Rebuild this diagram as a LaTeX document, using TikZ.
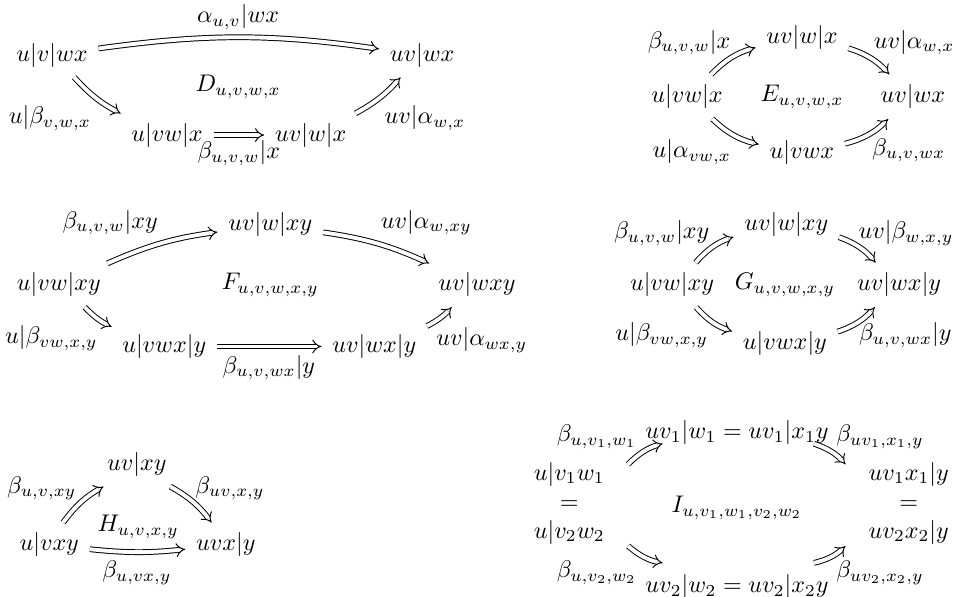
\documentclass[tikz,border=0pt]{standalone}
\usepackage{amsmath,amssymb}
\usetikzlibrary{arrows,positioning}

\begin{document}
\begin{tikzpicture}[dbl/.style={double,double distance=1.6pt,-implies,shorten >=1pt,shorten <=1pt}]
    \useasboundingbox (0,0) rectangle (14,8.724);

    % Square D
    \node (Da) at (0.76,7.92) {$u|v|wx$};
    \node (Db) at (6.17,7.92) {$uv|wx$};
    \node (Dc) at (2.44,6.75) {$u|vw|x$};
    \node (Dd) at (4.54,6.75) {$uv|w|x$};
    \node (Dname) at (3.48,7.45) {$D_{u,v,w,x}$};
    \node[inner sep=1pt] (Dl1) at (3.48,8.47) {$\alpha_{u,v}|wx$};
    \node (Dl2) at (0.73,7.00) {$u|\beta_{v,w,x}$};
    \node (Dl3) at (3.49,6.49) {$\beta_{u,v,w}|x$};
    \node (Dl4) at (6.21,7.00) {$uv|\alpha_{w,x}$};
    \draw[dbl] (Da) to[bend left=8] (Db);
    \draw[dbl] (Da) to[bend right=10] (Dc);
    \draw[dbl] (Dc) -- (Dd);
    \draw[dbl] (Dd) to[bend right=10] (Db);

    % Square E
    \node (Ea) at (10.04,7.31) {$u|vw|x$};
    \node (Eb) at (11.72,8.18) {$uv|w|x$};
    \node (Ec) at (13.34,7.31) {$uv|wx$};
    \node (Ed) at (11.72,6.49) {$u|vwx$};
    \node (Ename) at (11.72,7.31) {$E_{u,v,w,x}$};
    \node (El1) at (10.07,8.10) {$\beta_{u,v,w}|x$};
    \node (El2) at (13.36,8.10) {$uv|\alpha_{w,x}$};
    \node (El3) at (10.11,6.50) {$u|\alpha_{vw,x}$};
    \node (El4) at (13.28,6.53) {$\beta_{u,v,wx}$};
    \draw[dbl] (Ea) to[bend left=15] (Eb);
    \draw[dbl] (Eb) to[bend left=15] (Ec);
    \draw[dbl] (Ea) to[bend right=15] (Ed);
    \draw[dbl] (Ed) to[bend right=15] (Ec);

    % Square F
    \node (Fa) at (0.86,4.56) {$u|vw|xy$};
    \node (Fb) at (3.95,5.44) {$uv|w|xy$};
    \node (Fc) at (6.97,4.56) {$uv|wxy$};
    \node (Fd) at (2.40,3.66) {$u|vwx|y$};
    \node (Fe) at (5.47,3.66) {$uv|wx|y$};
    \node (Fname) at (3.95,4.56) {$F_{u,v,w,x,y}$};
    \node (Fl1) at (1.61,5.47) {$\beta_{u,v,w}|xy$};
    \node (Fl2) at (6.23,5.47) {$uv|\alpha_{w,xy}$};
    \node (Fl3) at (0.75,3.78) {$u|\beta_{vw,x,y}$};
    \node (Fl4) at (3.93,3.35) {$\beta_{u,v,wx}|y$};
    \node (Fl5) at (7.04,3.75) {$uv|\alpha_{wx,y}$};
    \draw[dbl] (Fa) to[bend left=8] (Fb);
    \draw[dbl] (Fb) to[bend left=8] (Fc);
    \draw[dbl] (Fa) to[bend right=10] (Fd);
    \draw[dbl] (Fd) -- (Fe);
    \draw[dbl] (Fe) to[bend right=10] (Fc);

    % Square G
    \node (Ga) at (9.82,4.56) {$u|vw|xy$};
    \node (Gb) at (11.49,5.44) {$uv|w|xy$};
    \node (Gc) at (13.14,4.56) {$uv|wx|y$};
    \node (Gd) at (11.47,3.71) {$u|vwx|y$};
    \node (Gname) at (11.47,4.56) {$G_{u,v,w,x,y}$};
    \node (Gl1) at (9.67,5.32) {$\beta_{u,v,w}|xy$};
    \node (Gl2) at (13.24,5.32) {$uv|\beta_{w,x,y}$};
    \node (Gl3) at (9.67,3.83) {$u|\beta_{vw,x,y}$};
    \node (Gl4) at (13.23,3.83) {$\beta_{u,v,wx}|y$};
    \draw[dbl] (Ga) to[bend left=15] (Gb);
    \draw[dbl] (Gb) to[bend left=15] (Gc);
    \draw[dbl] (Ga) to[bend right=15] (Gd);
    \draw[dbl] (Gd) to[bend right=15] (Gc);

    % Triangle H
    \node (Ha) at (0.72,0.76) {$u|vxy$};
    \node (Hb) at (2.00,1.93) {$uv|xy$};
    \node (Hc) at (3.30,0.76) {$uvx|y$};
    \node (Hname) at (2.02,1.02) {$H_{u,v,x,y}$};
    \node (Hl1) at (0.61,1.59) {$\beta_{u,v,xy}$};
    \node (Hl2) at (3.36,1.59) {$\beta_{uv,x,y}$};
    \node (Hl3) at (2.00,0.35) {$\beta_{u,vx,y}$};
    \draw[dbl] (Ha) to[bend left=12] ([xshift=1mm]Hb.south west);
    \draw[dbl] ([xshift=-1mm]Hb.south east) to[bend left=12] (Hc);
    \draw[dbl] (Ha) to[bend right=6] (Hc);

    % Square I
    \node[align=center] (Ia) at (8.32,1.37) {$u|v_1w_1$\\$=$\\$u|v_2w_2$};
    \node (Ib) at (10.77,2.40) {$uv_1|w_1=uv_1|x_1y$};
    \node[align=center] (Ic) at (13.28,1.37) {$uv_1x_1|y$\\$=$\\$uv_2x_2|y$};
    \node (Id) at (10.77,0.15) {$uv_2|w_2=uv_2|x_2y$};
    \node (Iname) at (10.77,1.30) {$I_{u,v_1,w_1,v_2,w_2}$};
    \node (Il1) at (8.72,2.34) {$\beta_{u,v_1,w_1}$};
    \node (Il2) at (12.86,2.34) {$\beta_{uv_1,x_1,y}$};
    \node (Il3) at (8.72,0.35) {$\beta_{u,v_2,w_2}$};
    \node (Il4) at (12.86,0.35) {$\beta_{uv_2,x_2,y}$};
    \draw[dbl] ([shift={(0.19,-0.18)}]Ia.north east) to[bend left=15] ([shift={(0.41,0.15)}]Ib.south west);
    \draw[dbl] ([shift={(-0.37,0.15)}]Ib.south east) to[bend left=15] ([shift={(-0.19,-0.18)}]Ic.north west);
    \draw[dbl] ([shift={(0.19,0.12)}]Ia.south east) to[bend right=15] ([shift={(0.41,0.04)}]Id.north west);
    \draw[dbl] ([shift={(-0.37,0.04)}]Id.north east) to[bend right=15] ([shift={(-0.19,0.12)}]Ic.south west);
\end{tikzpicture}
\end{document}
